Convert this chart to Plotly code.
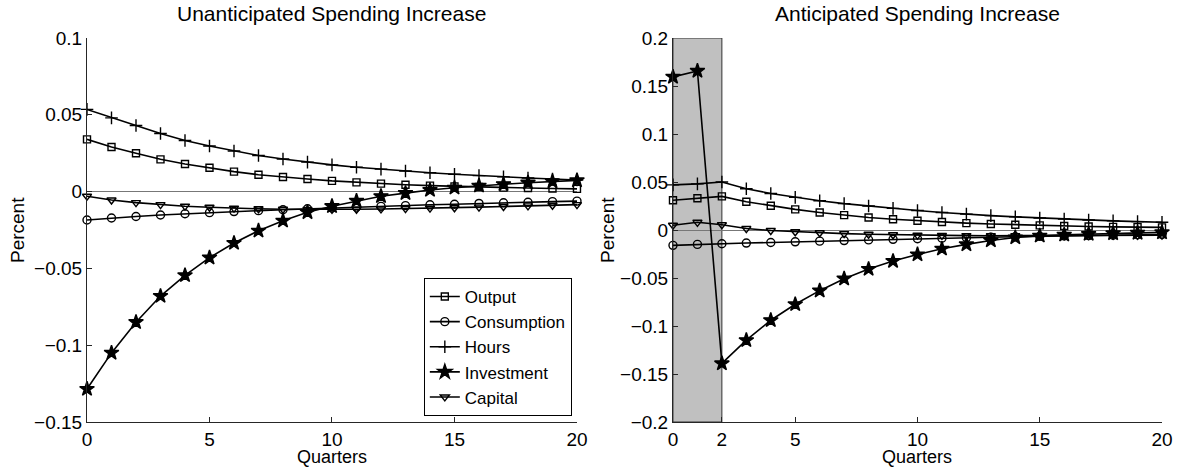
import plotly.graph_objects as go

# ---------------- data ----------------
quarters = list(range(21))
x_ticks_left = [0, 5, 10, 15, 20]
x_ticks_right = [0, 2, 5, 10, 15, 20]
y_ticks_left = [0.1, 0.05, 0, -0.05, -0.1, -0.15]
y_labels_left = ["0.1", "0.05", "0", "\u22120.05", "\u22120.1", "\u22120.15"]
y_ticks_right = [0.2, 0.15, 0.1, 0.05, 0, -0.05, -0.1, -0.15, -0.2]
y_labels_right = ["0.2", "0.15", "0.1", "0.05", "0", "\u22120.05", "\u22120.1", "\u22120.15", "\u22120.2"]
y_range_left = [-0.15, 0.1]
y_range_right = [-0.2, 0.2]
anticipation_window = [0, 2]

series_names = ["Output", "Consumption", "Hours", "Investment", "Capital"]

# Unanticipated
u_output = [0.034, 0.029, 0.025, 0.021, 0.018, 0.0155, 0.013, 0.011, 0.0095, 0.0082, 0.007,
            0.006, 0.0052, 0.0045, 0.0039, 0.0034, 0.003, 0.0026, 0.0023, 0.002, 0.0018]
u_consumption = [-0.0185, -0.0172, -0.0162, -0.0152, -0.0144, -0.0137, -0.013, -0.0124, -0.0118,
                 -0.0112, -0.0106, -0.0101, -0.0096, -0.0091, -0.0086, -0.0082, -0.0077, -0.0073,
                 -0.0069, -0.0065, -0.0062]
u_hours = [0.0535, 0.048, 0.043, 0.0378, 0.0333, 0.0297, 0.0264, 0.0235, 0.0212, 0.0192, 0.0174,
           0.0159, 0.0146, 0.0134, 0.0123, 0.0113, 0.0104, 0.0096, 0.0089, 0.0082, 0.0076]
u_investment = [-0.1285, -0.105, -0.085, -0.068, -0.0545, -0.043, -0.0335, -0.0255, -0.019,
                -0.0135, -0.0095, -0.006, -0.003, -0.001, 0.001, 0.0025, 0.0038, 0.0048,
                0.0058, 0.0066, 0.0073]
u_capital = [-0.003, -0.0055, -0.0072, -0.0085, -0.0095, -0.0102, -0.0108, -0.0112, -0.0115,
             -0.0116, -0.0116, -0.0115, -0.0113, -0.0111, -0.0108, -0.0105, -0.0101, -0.0097,
             -0.0093, -0.0089, -0.0085]

# Anticipated
a_output = [0.031, 0.033, 0.035, 0.0295, 0.0252, 0.0215, 0.0183, 0.0155, 0.013, 0.0112, 0.0096,
            0.0083, 0.0072, 0.0063, 0.0055, 0.0048, 0.0042, 0.0037, 0.0033, 0.003, 0.0027]
a_consumption = [-0.016, -0.015, -0.0143, -0.0136, -0.013, -0.0123, -0.0116, -0.011, -0.0103,
                 -0.0097, -0.0091, -0.0085, -0.008, -0.0075, -0.007, -0.0066, -0.0062, -0.0058,
                 -0.0054, -0.005, -0.0047]
a_hours = [0.047, 0.048, 0.050, 0.043, 0.038, 0.034, 0.0305, 0.0275, 0.025, 0.0225, 0.0203,
           0.0183, 0.0165, 0.015, 0.0137, 0.0125, 0.0114, 0.0104, 0.0095, 0.0087, 0.008]
a_investment = [0.1595, 0.1657, -0.139, -0.1148, -0.094, -0.0774, -0.0632, -0.0507, -0.0407,
                -0.0324, -0.0255, -0.0196, -0.015, -0.011, -0.0078, -0.006, -0.005, -0.0042,
                -0.0035, -0.003, -0.0025]
a_capital = [0.005, 0.008, 0.0055, 0.0015, -0.0005, -0.0018, -0.0029, -0.0038, -0.0045, -0.005,
             -0.0054, -0.0057, -0.0059, -0.006, -0.006, -0.006, -0.0059, -0.0058, -0.0057,
             -0.0056, -0.0054]

# ---------------- styling ----------------
FONT = "Liberation Sans, Arial, sans-serif"
AX = "#262626"
markers = {
    "Output": dict(symbol="square-open", size=7),
    "Consumption": dict(symbol="circle-open", size=8),
    "Hours": dict(symbol="cross-thin-open", size=9),
    "Investment": dict(symbol="star", size=11),
    "Capital": dict(symbol="triangle-down-open", size=8),
}

fig = go.Figure()
left_data = [u_output, u_consumption, u_hours, u_investment, u_capital]
right_data = [a_output, a_consumption, a_hours, a_investment, a_capital]

for name, ys in zip(series_names, left_data):
    m = markers[name]
    fig.add_trace(go.Scatter(
        x=quarters, y=ys, name=name, mode="lines+markers", xaxis="x", yaxis="y",
        line=dict(color="black", width=1.6), cliponaxis=False,
        marker=dict(symbol=m["symbol"], size=m["size"], color="black",
                    line=dict(color="black", width=1.4)),
        showlegend=True, legendgroup=name))

for name, ys in zip(series_names, right_data):
    m = markers[name]
    fig.add_trace(go.Scatter(
        x=quarters, y=ys, name=name, mode="lines+markers", xaxis="x2", yaxis="y2",
        line=dict(color="black", width=1.6), cliponaxis=False,
        marker=dict(symbol=m["symbol"], size=m["size"], color="black",
                    line=dict(color="black", width=1.4)),
        showlegend=False, legendgroup=name))

fig.add_shape(type="rect", xref="x2", yref="y2",
              x0=anticipation_window[0], x1=anticipation_window[1],
              y0=y_range_right[0], y1=y_range_right[1],
              fillcolor="#c0c0c0", line=dict(color="#333333", width=1), layer="below")

axis_common = dict(showline=True, linecolor=AX, linewidth=1, ticks="inside", ticklen=5,
                   tickcolor=AX, showgrid=False, tickfont=dict(size=19, color="black", family=FONT))

L = 0.4558
R0 = 0.5451
fig.update_layout(
    width=1186, height=468,
    margin=dict(l=87, r=24, t=38, b=46),
    paper_bgcolor="white", plot_bgcolor="white",
    font=dict(family=FONT, size=19, color="black"),
    xaxis=dict(domain=[0, L], range=[0, 20], tickvals=x_ticks_left, zeroline=False,
               anchor="y", **axis_common),
    yaxis=dict(domain=[0, 1], range=y_range_left, tickvals=y_ticks_left, ticktext=y_labels_left,
               zeroline=True, zerolinecolor="#777777", zerolinewidth=1, anchor="x", **axis_common),
    xaxis2=dict(domain=[R0, 1], range=[0, 20], tickvals=x_ticks_right, zeroline=False,
                anchor="y2", **axis_common),
    yaxis2=dict(domain=[0, 1], range=y_range_right, tickvals=y_ticks_right, ticktext=y_labels_right,
                zeroline=True, zerolinecolor="#777777", zerolinewidth=1, anchor="x2", **axis_common),
    legend=dict(x=0.451, y=0.0156, xanchor="right", yanchor="bottom",
                bgcolor="white", bordercolor="black", borderwidth=1,
                font=dict(size=17, family=FONT, color="black"), itemwidth=30,
                tracegroupgap=0),
    showlegend=True,
)

annotations = [
    dict(text="Unanticipated Spending Increase", x=L / 2, y=1.065, xref="paper", yref="paper",
         showarrow=False, xanchor="center", yanchor="middle", font=dict(size=21)),
    dict(text="Anticipated Spending Increase", x=(R0 + 1) / 2, y=1.065, xref="paper", yref="paper",
         showarrow=False, xanchor="center", yanchor="middle", font=dict(size=21)),
    dict(text="Quarters", x=L / 2, y=-0.0911, xref="paper", yref="paper",
         showarrow=False, xanchor="center", yanchor="middle", font=dict(size=18)),
    dict(text="Quarters", x=(R0 + 1) / 2, y=-0.0911, xref="paper", yref="paper",
         showarrow=False, xanchor="center", yanchor="middle", font=dict(size=18)),
    dict(text="Percent", x=-0.0651, y=0.5, xref="paper", yref="paper", textangle=-90,
         showarrow=False, xanchor="center", yanchor="middle", font=dict(size=19)),
    dict(text="Percent", x=0.4837, y=0.5, xref="paper", yref="paper", textangle=-90,
         showarrow=False, xanchor="center", yanchor="middle", font=dict(size=19)),
]
fig.update_layout(annotations=annotations)

fig.write_html("out.html", config={"displayModeBar": False},
               post_script="document.body.style.margin='0';document.body.style.overflow='hidden';")
